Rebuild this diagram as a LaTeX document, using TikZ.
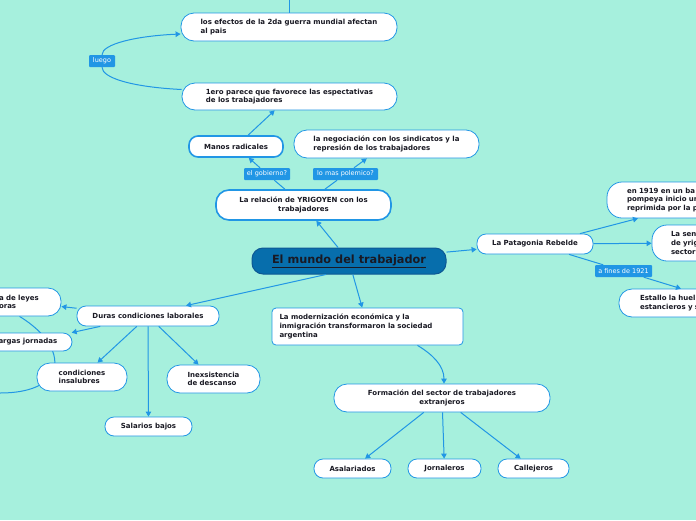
\documentclass[tikz,border=0pt]{standalone}
\usepackage{fontspec}
\setmainfont{DejaVu Sans}
\usepackage{tikz}
\usetikzlibrary{arrows.meta, backgrounds}
\definecolor{bgaqua}{RGB}{166,240,221}
\definecolor{linkblue}{RGB}{33,150,229}
\definecolor{mainfill}{RGB}{7,110,172}
\definecolor{mainedge}{RGB}{14,88,148}
\definecolor{inkdark}{RGB}{25,25,35}
\tikzset{
  idea/.style={rectangle, rounded corners=9pt, draw=linkblue, fill=white, line width=0.8pt,
               text=inkdark, align=center, inner sep=0pt, font=\bfseries\fontsize{7}{8.6}\selectfont},
  tallidea/.style={idea, rounded corners=13pt},
  bigidea/.style={idea, line width=1.6pt},
  mainidea/.style={rectangle, rounded corners=11pt, draw=mainedge, fill=mainfill, line width=1pt,
                   text=inkdark, inner sep=0pt, font=\bfseries\fontsize{11.3}{13}\selectfont},
  tag/.style={rectangle, rounded corners=1pt, fill=linkblue, text=white, inner sep=0pt,
              minimum height=12pt, font=\fontsize{6.5}{7}\selectfont},
  arrow/.style={-{Triangle[length=5pt,width=5.5pt]}, line width=1pt, color=linkblue},
}

\begin{document}
\begin{tikzpicture}[x=1pt,y=-1pt]
  \useasboundingbox (0,0) rectangle (696,520);
  \begin{scope}[on background layer]
    \fill[bgaqua] (0,0) rectangle (696,520);
  \end{scope}
  \clip (0,0) rectangle (696,520);

  % centre
  \node[mainidea, minimum width=194pt, minimum height=26pt] (main) at (349,261)
    {\underline{El mundo del trabajador}};

  % YRIGOYEN branch
  \node[bigidea, rounded corners=13pt, minimum width=175pt, minimum height=30pt] (rel) at (303.5,205)
    {La relación de YRIGOYEN con los\\trabajadores};
  \node[bigidea, minimum width=94pt, minimum height=21pt] (manos) at (236,146.5) {Manos radicales};
  \node[tallidea, align=left, minimum width=185pt, minimum height=28pt] (nego) at (386.5,144)
    {la negociación con los sindicatos y la\\represión de los trabajadores};
  \node[tallidea, align=left, minimum width=215pt, minimum height=27pt] (ero) at (289.5,96.5)
    {1ero parece que favorece las espectativas\\de los trabajadores};
  \node[tallidea, align=left, minimum width=216pt, minimum height=28pt] (efectos) at (289,27)
    {los efectos de la 2da guerra mundial afectan\\al pais};
  \coordinate (up) at (289,-30);

  \node[tag, minimum width=26pt] (luego) at (102,61) {luego};
  \node[tag, minimum width=46pt] (gob) at (267,174) {el gobierno?};
  \node[tag, minimum width=65pt] (pol) at (345.5,174) {lo mas polemico?};

  % Patagonia branch
  \node[idea, minimum width=116pt, minimum height=20pt] (pat) at (535,244) {La Patagonia Rebelde};
  \node[tallidea, rounded corners=15pt, align=left, text width=100pt, inner xsep=20pt,
        minimum height=36pt] (p1919) at (677,200)
    {en 1919 en un ba\\pompeya inicio un\\reprimida por la p};
  \node[tallidea, rounded corners=15pt, align=left, text width=60pt, inner xsep=19pt,
        minimum height=36pt] (psem) at (701,243) {La sen\\de yrig\\sector};
  \node[tallidea, align=left, text width=100pt, inner xsep=21pt, minimum height=28pt] (pest) at (690,303)
    {Estallo la huel\\estancieros y s};
  \node[tag, minimum width=57pt] (fines) at (623.5,271) {a fines de 1921};

  % condiciones laborales
  \node[idea, minimum width=142pt, minimum height=20pt] (duras) at (148,316) {Duras condiciones laborales};
  \node[tallidea, align=left, text width=41pt, inner xsep=21pt, minimum height=28pt] (leyes) at (19.5,302)
    {a de leyes\\oras};
  \begin{scope}[on background layer]
    \clip (0,0) rectangle (696,520);
    \coordinate (offl) at (-35,390);
    \draw[arrow] (leyes.south) .. controls (75,350) and (70,405) .. (offl);
  \end{scope}
  \node[idea, align=left, text width=60pt, inner xsep=13.5pt, minimum height=18pt] (largas) at (28.5,342)
    {argas jornadas};
  \node[tallidea, align=left, minimum width=90pt, minimum height=28pt] (insal) at (82,377)
    {condiciones\\insalubres};
  \node[tallidea, align=left, minimum width=93pt, minimum height=28pt] (desc) at (213.5,379)
    {Inexsistencia\\de descanso};
  \node[idea, minimum width=87pt, minimum height=19pt] (sal) at (148.5,426.5) {Salarios bajos};

  % modernizacion
  \node[idea, rounded corners=4pt, align=left, text width=176pt, inner xsep=7.5pt, minimum height=37pt]
    (mod) at (367.5,326.5)
    {La modernización económica y la\\inmigración transformaron la sociedad\\argentina};
  \node[tallidea, minimum width=216pt, minimum height=28pt] (form) at (442,398)
    {Formación del sector de trabajadores\\extranjeros};
  \node[idea, minimum width=77pt, minimum height=19pt] (asal) at (352.5,468.5) {Asalariados};
  \node[idea, minimum width=73pt, minimum height=19pt] (jorn) at (444.5,468.5) {Jornaleros};
  \node[idea, minimum width=71pt, minimum height=19pt] (call) at (533.5,468.5) {Callejeros};

  % connectors
  \draw[arrow] (main) -- (rel);
  \draw[arrow] (rel) -- (gob) -- (manos);
  \draw[arrow] (rel) -- (pol) -- (nego);
  \draw[arrow] (manos) -- (ero);
  \draw[arrow] ([yshift=7pt]ero.west) .. controls (132,87) and (102,78) .. (luego)
    .. controls (102,44) and (136,36) .. ([yshift=-7pt]efectos.west);
  \draw[arrow] (efectos) -- (up);

  \draw[arrow] (main) -- (pat);
  \draw[arrow] ([xshift=45pt]pat.north) -- ([xshift=-39pt]p1919.south);
  \draw[arrow] (pat) -- (psem);
  \draw[arrow] (pat) -- (fines) -- ([xshift=-9pt]pest.north);

  \draw[arrow] ([xshift=-23pt]main.south) -- ([xshift=38pt]duras.north);
  \draw[arrow] (duras) -- (leyes);
  \draw[arrow] (duras) -- (largas);
  \draw[arrow] (duras) -- (insal);
  \draw[arrow] (duras) -- (desc);
  \draw[arrow] (duras) -- (sal);

  \draw[arrow] (main) -- (mod);
  \draw[arrow] ([xshift=50pt]mod.south) .. controls +(15,9) and +(0,-18) .. ([xshift=2pt]form.north);
  \draw[arrow] (form) -- (asal);
  \draw[arrow] (form) -- (jorn);
  \draw[arrow] (form) -- (call);
\end{tikzpicture}
\end{document}
